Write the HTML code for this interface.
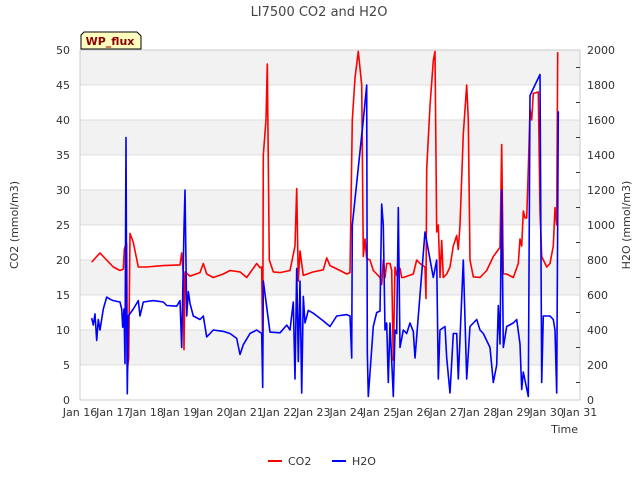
<!DOCTYPE html>
<html><head><meta charset="utf-8"><style>
body{margin:0;background:#fff;font-family:"DejaVu Sans","Liberation Sans",sans-serif;}
svg text{font-family:"DejaVu Sans","Liberation Sans",sans-serif;}
</style></head><body>
<svg id="c" width="640" height="480" xmlns="http://www.w3.org/2000/svg">
<text x="319" y="16" text-anchor="middle" font-size="13" fill="#444">LI7500 CO2 and H2O</text>
<g id="bands"></g><g id="grid"></g>
<rect x="80" y="50" width="500" height="350" fill="none" stroke="#ccc"/>
<g id="axes"></g><g id="series"></g>
<g>
<path d="M84 32 L137 32 L141 36 L141 49 L81 49 L81 35 Z" fill="#ffffc0" stroke="#000" stroke-width="1"/>
<text x="110" y="45" text-anchor="middle" font-size="11" font-weight="bold" fill="#8b0000">WP_flux</text></g>
<text x="18" y="225" transform="rotate(-90 18 225)" text-anchor="middle" font-size="11" fill="#333">CO2 (mmol/m3)</text>
<text x="630" y="225" transform="rotate(-90 630 225)" text-anchor="middle" font-size="11" fill="#333">H2O (mmol/m3)</text>
<text x="578" y="433" text-anchor="end" font-size="11" fill="#333">Time</text>
<g>
<g><line x1="268" y1="461" x2="282" y2="461" stroke="red" stroke-width="2"/><text x="288" y="465" font-size="11" fill="#333">CO2</text></g>
<g><line x1="332" y1="461" x2="346" y2="461" stroke="blue" stroke-width="2"/><text x="352" y="465" font-size="11" fill="#333">H2O</text></g>
</g>
</svg>
<script>
const xTickLabels=["Jan 16","Jan 17","Jan 18","Jan 19","Jan 20","Jan 21","Jan 22","Jan 23","Jan 24","Jan 25","Jan 26","Jan 27","Jan 28","Jan 29","Jan 30","Jan 31"];
const leftTicks=[0,5,10,15,20,25,30,35,40,45,50];
const rightTicks=[0,200,400,600,800,1000,1200,1400,1600,1800,2000];
const co2Days=[16.35,16.5,16.6,16.7,17.0,17.2,17.3,17.33,17.37,17.40,17.42,17.46,17.50,17.6,17.75,18.0,18.5,19.0,19.05,19.1,19.12,19.15,19.3,19.6,19.7,19.8,20.0,20.3,20.5,20.8,21.0,21.3,21.4,21.45,21.48,21.5,21.58,21.62,21.68,21.8,22.0,22.3,22.45,22.5,22.55,22.6,22.7,23.0,23.3,23.4,23.5,23.8,24.0,24.1,24.17,24.25,24.35,24.45,24.5,24.55,24.6,24.7,24.8,24.9,25.0,25.05,25.1,25.15,25.2,25.3,25.35,25.4,25.45,25.5,25.55,25.6,25.65,25.7,26.0,26.1,26.2,26.35,26.38,26.4,26.5,26.6,26.65,26.7,26.75,26.8,26.85,26.9,27.0,27.1,27.2,27.3,27.35,27.4,27.5,27.6,27.65,27.7,27.8,28.0,28.2,28.4,28.6,28.65,28.7,28.8,29.0,29.15,29.2,29.25,29.3,29.35,29.4,29.45,29.5,29.55,29.6,29.75,29.8,29.85,30.0,30.1,30.2,30.25,30.3,30.33];
const co2Vals=[19.7,20.5,21,20.5,19,18.5,18.7,21.5,22.2,22.3,4.2,6,23.8,22.5,19.0,19.0,19.2,19.3,21,18,7.2,18.3,17.7,18.2,19.5,18,17.5,18,18.5,18.3,17.5,19.5,18.9,19,6,35,40,48,20,18.3,18.2,18.5,22,30.2,17,21.3,17.8,18.3,18.6,20.3,19.2,18.5,18,18.2,40,46,49.8,45,20.5,23,20.2,20,18.5,18,17.5,16.5,20,17.5,19.5,19.5,18.5,5.7,19,17.8,18.5,18.8,17.5,17.5,18,20,19.5,19,14.5,33,42,48.5,49.8,24,25,17.5,22.8,17.5,18,19,22,23.5,21.5,25,38,45,40,20,17.6,17.5,18.5,20.5,21.8,36.5,18,18,17.5,19.5,23,22,27,26,26,33,41.5,40,43.8,44,27,20.5,19,19.5,22,27.5,25,49.7];
const h2oDays=[16.35,16.4,16.45,16.5,16.55,16.6,16.7,16.8,16.9,17.0,17.2,17.25,17.28,17.32,17.35,17.38,17.4,17.42,17.45,17.6,17.75,17.8,17.9,18.2,18.5,18.6,18.9,19.0,19.05,19.12,19.15,19.2,19.25,19.3,19.4,19.6,19.7,19.8,20.0,20.3,20.5,20.7,20.8,20.9,21.1,21.3,21.45,21.48,21.5,21.7,22.0,22.2,22.3,22.4,22.45,22.5,22.55,22.6,22.65,22.7,22.75,22.85,23.0,23.3,23.5,23.7,24.0,24.1,24.15,24.17,24.5,24.6,24.62,24.65,24.8,24.9,25.0,25.05,25.1,25.15,25.2,25.25,25.3,25.4,25.45,25.5,25.55,25.6,25.7,25.8,25.9,26.0,26.05,26.35,26.6,26.7,26.75,26.8,26.95,27.0,27.1,27.2,27.3,27.35,27.5,27.6,27.7,27.9,28.0,28.1,28.3,28.4,28.5,28.55,28.6,28.65,28.7,28.8,29.0,29.1,29.2,29.25,29.3,29.45,29.5,29.8,29.85,29.9,30.0,30.1,30.2,30.25,30.3,30.35];
const h2oVals=[468,428,492,340,460,400,520,588,576,568,560,520,416,520,208,1500,500,36,480,520,568,480,560,568,560,540,536,568,300,980,1200,480,620,552,480,460,480,360,400,392,380,352,260,316,380,400,380,72,680,388,384,428,400,560,120,752,220,680,40,592,440,512,496,452,420,480,488,480,240,1000,1600,1800,280,20,420,500,508,1120,1000,400,440,100,440,20,400,380,1100,300,400,380,440,392,240,960,700,800,120,400,420,240,40,380,380,120,800,120,420,460,400,380,300,100,200,540,320,1200,300,420,440,460,320,60,160,20,1740,1860,100,480,480,480,460,400,40,1650];
const NS="http://www.w3.org/2000/svg";
const X0=80,X1=580,Y0=400,Y1=50;
const xs=d=>X0+(d-16)*(X1-X0)/15;
const yl=v=>Y0-v*(Y0-Y1)/50;
const yr=v=>Y0-v*(Y0-Y1)/2000;
function mk(tag,attrs,parent){const e=document.createElementNS(NS,tag);for(const k in attrs)e.setAttribute(k,attrs[k]);parent.appendChild(e);return e;}
const bands=document.getElementById('bands'),grid=document.getElementById('grid'),axes=document.getElementById('axes'),series=document.getElementById('series');
for(let i=0;i<leftTicks.length-1;i++){
  if(i%2===1){const r=mk('rect',{x:X0,y:yl(leftTicks[i+1]),width:X1-X0,height:yl(leftTicks[i])-yl(leftTicks[i+1]),fill:'#f2f2f2'},bands);
  
  }
}
leftTicks.forEach(v=>{
  const g=mk('line',{x1:X0,x2:X1,y1:yl(v),y2:yl(v),stroke:'#ddd','stroke-width':1},grid);
  
  
  const t=mk('text',{x:X0-10,y:yl(v)+4,'text-anchor':'end','font-size':11,fill:'#333'},axes);t.textContent=v;
  
  
});
rightTicks.forEach((v,i)=>{
  const t=mk('text',{x:X1+7,y:yr(v)+4,'font-size':11,fill:'#333'},axes);t.textContent=v;
  
  
  if(i<rightTicks.length-1){const m=mk('line',{x1:X1,x2:X1-4,y1:yr(v+100),y2:yr(v+100),stroke:'#333'},axes);
  
  }
});
xTickLabels.forEach((s,i)=>{
  const t=mk('text',{x:xs(16+i),y:Y0+16,'text-anchor':'middle','font-size':11,fill:'#333'},axes);t.textContent=s;
  
  
});
function line(days,vals,yf,color,name){
  const p=mk('polyline',{points:days.map((d,i)=>xs(d).toFixed(1)+','+yf(vals[i]).toFixed(1)).join(' '),fill:'none',stroke:color,'stroke-width':1.6,'stroke-linejoin':'round'},series);
  
  
}
line(co2Days,co2Vals,yl,'red','co2-line');
line(h2oDays,h2oVals,yr,'blue','h2o-line');
</script>
</body></html>
